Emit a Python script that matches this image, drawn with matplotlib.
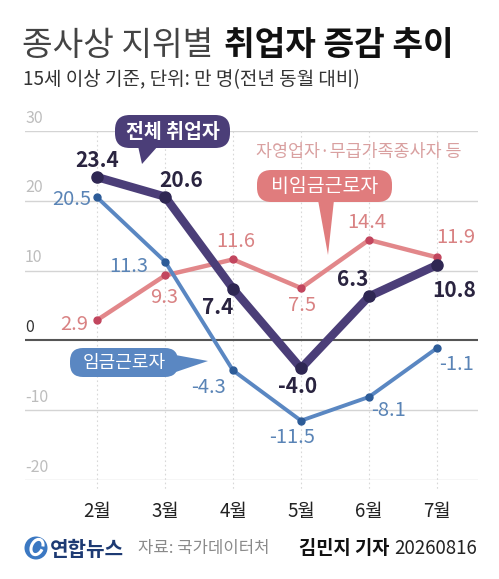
import matplotlib
matplotlib.use("Agg")
import matplotlib.pyplot as plt
from matplotlib.patches import FancyBboxPatch, Polygon, Circle, Arc

plt.rcParams['font.family'] = ['Noto Sans CJK KR', 'DejaVu Sans']

# ---------------- data ----------------
months = ['2월', '3월', '4월', '5월', '6월', '7월']
total = [23.4, 20.6, 7.4, -4.0, 6.3, 10.8]        # 전체 취업자
wage = [20.5, 11.3, -4.3, -11.5, -8.1, -1.1]       # 임금근로자
nonwage = [2.9, 9.3, 11.6, 7.5, 14.4, 11.9]        # 비임금근로자
yticks = [30, 20, 10, 0, -10, -20]

title_light = '종사상 지위별 '
title_bold = '취업자 증감 추이'
subtitle = '15세 이상 기준, 단위: 만 명(전년 동월 대비)'
source = '자료: 국가데이터처'
byline_name = '김민지 기자 '
byline_date = '20260816'

# label offsets (pixels) for value labels
off_total = [(0, 17), (16, 16), (-15, -19), (-3, -18), (-16, 17), (17, -25)]
off_wage = [(-25, -2), (-36, -5), (-25, -17), (-9, -17), (19, -14), (19, -16)]
off_non = [(-23, -4), (-1, -22), (3, 18), (1, -17), (-2, 17), (19, 20)]

W, H = 499, 579
fig = plt.figure(figsize=(W / 100, H / 100), dpi=100)
fig.patch.set_facecolor('white')

# main axes: x pixels 25..478, y pixels 131 (30) .. 480 (-20)
ax = fig.add_axes([25 / W, (H - 480) / H, 453 / W, 349 / H])
x = list(range(len(months)))
ax.set_xlim(-72 / 68, 5 + 41 / 68)
ax.set_ylim(-20, 30)
ax.axis('off')

for v in yticks:
    if v == 0:
        continue
    ax.axhline(v, color='#d4d4d4', lw=1.0, zorder=1)
ax.axhline(0, color='#555555', lw=1.5, zorder=1)

for xi in x:
    ax.plot([xi, xi], [30, -21.5], color='#d8d8d8', lw=0.8, ls=(0, (1.5, 2.5)),
            zorder=0.5, clip_on=False)

pink = '#e2878a'
blue = '#5a87c2'
purple = '#4b3e78'

ax.plot(x, nonwage, color=pink, lw=3.2, zorder=3, solid_capstyle='round', solid_joinstyle='round')
ax.plot(x, nonwage, ls='none', marker='o', ms=5, color='#c2465e', zorder=3.1)
ax.plot(x, wage, color=blue, lw=2.8, zorder=4, solid_capstyle='round', solid_joinstyle='round')
ax.plot(x, wage, ls='none', marker='o', ms=5, color='#2d5c98', zorder=4.1)
ax.plot(x, total, color=purple, lw=6.0, zorder=5, solid_capstyle='round', solid_joinstyle='round')
ax.plot(x, total, ls='none', marker='o', ms=8, color='#2f2753', zorder=5.1)

for xi, v, o in zip(x, nonwage, off_non):
    ax.annotate(f'{v:.1f}', (xi, v), xytext=o, textcoords='offset pixels',
                ha='center', va='center', fontsize=14.5, color='#d98283', zorder=6)
for xi, v, o in zip(x, wage, off_wage):
    ax.annotate(f'{v:.1f}', (xi, v), xytext=o, textcoords='offset pixels',
                ha='center', va='center', fontsize=14.5, color='#5a84b6', zorder=6)
for xi, v, o in zip(x, total, off_total):
    ax.annotate(f'{v:.1f}', (xi, v), xytext=o, textcoords='offset pixels',
                ha='center', va='center', fontsize=15, color='#2a2440',
                fontweight='bold', zorder=6)

# y tick labels (above gridlines)
for v in yticks:
    ax.annotate(f'{v}', (-72 / 68, v), xytext=(0, 13), textcoords='offset pixels',
                ha='left', va='center', fontsize=11.5,
                color='#333333' if v == 0 else '#bdbdbd')

# month labels
for xi, m in zip(x, months):
    ax.annotate(m, (xi, -20), xytext=(0, -32), textcoords='offset pixels',
                ha='center', va='center', fontsize=13.5, color='#222222',
                annotation_clip=False)

# ---------------- overlay in pixel coords ----------------
ov = fig.add_axes([0, 0, 1, 1], zorder=10)
ov.set_xlim(0, W)
ov.set_ylim(H, 0)
ov.axis('off')
ov.patch.set_alpha(0)


def bubble(x0, y0, x1, y1, color, tail, text, fs, weight='normal'):
    r = (y1 - y0) / 2
    ov.add_patch(FancyBboxPatch((x0, y0), (x1 - x0), (y1 - y0),
                                boxstyle=f'round,pad=0,rounding_size={r * 0.9}',
                                fc=color, ec='none'))
    ov.add_patch(Polygon(tail, closed=True, fc=color, ec='none'))
    ov.text((x0 + x1) / 2, (y0 + y1) / 2 + 0.5, text, ha='center', va='center',
            fontsize=fs, color='white', fontweight=weight)


bubble(115, 115, 230, 148, purple, [(138, 146), (158, 146), (142, 164)],
       '전체 취업자', 14, 'bold')
bubble(257, 170, 392, 202, '#e07c7d', [(318, 200), (334, 200), (328, 255)],
       '비임금근로자', 14)
bubble(70, 348, 178, 377, blue, [(170, 354), (170, 374), (208, 361)],
       '임금근로자', 13)

ov.text(359, 152, '자영업자·무급가족종사자 등', ha='center', va='center',
        fontsize=12.5, color='#d9a0a0')

# title
t1 = ov.text(22, 46, title_light, ha='left', va='center', fontsize=24,
             color='#444444', fontweight='light')
fig.canvas.draw()
bb = t1.get_window_extent()
x_end = bb.x1 + 3
ov.text(x_end, 46, title_bold, ha='left', va='center', fontsize=24,
        color='#111111', fontweight='bold')

ov.text(23, 80, subtitle, ha='left', va='center', fontsize=13.7, color='#333333')

# footer
ov.add_patch(Circle((36, 548), 11.5, fc='#3b78c2', ec='none'))
ov.add_patch(Arc((37, 547), 11, 16, angle=25, theta1=0, theta2=330,
                 color='white', lw=2.2))
ov.text(50, 549, '연합뉴스', ha='left', va='center', fontsize=14.5,
        fontweight='bold', color='#1d3a73')
ov.text(138, 549, source, ha='left', va='center', fontsize=12, color='#8a8a8a')
tdate = ov.text(477, 549, byline_date, ha='right', va='center', fontsize=13.5,
                color='#222222')
fig.canvas.draw()
bb2 = tdate.get_window_extent()
ov.text(bb2.x0 * W / fig.bbox.width, 549, byline_name, ha='right', va='center',
        fontsize=13.5, color='#111111', fontweight='bold')

fig.savefig('out.png', dpi=100, facecolor='white')
